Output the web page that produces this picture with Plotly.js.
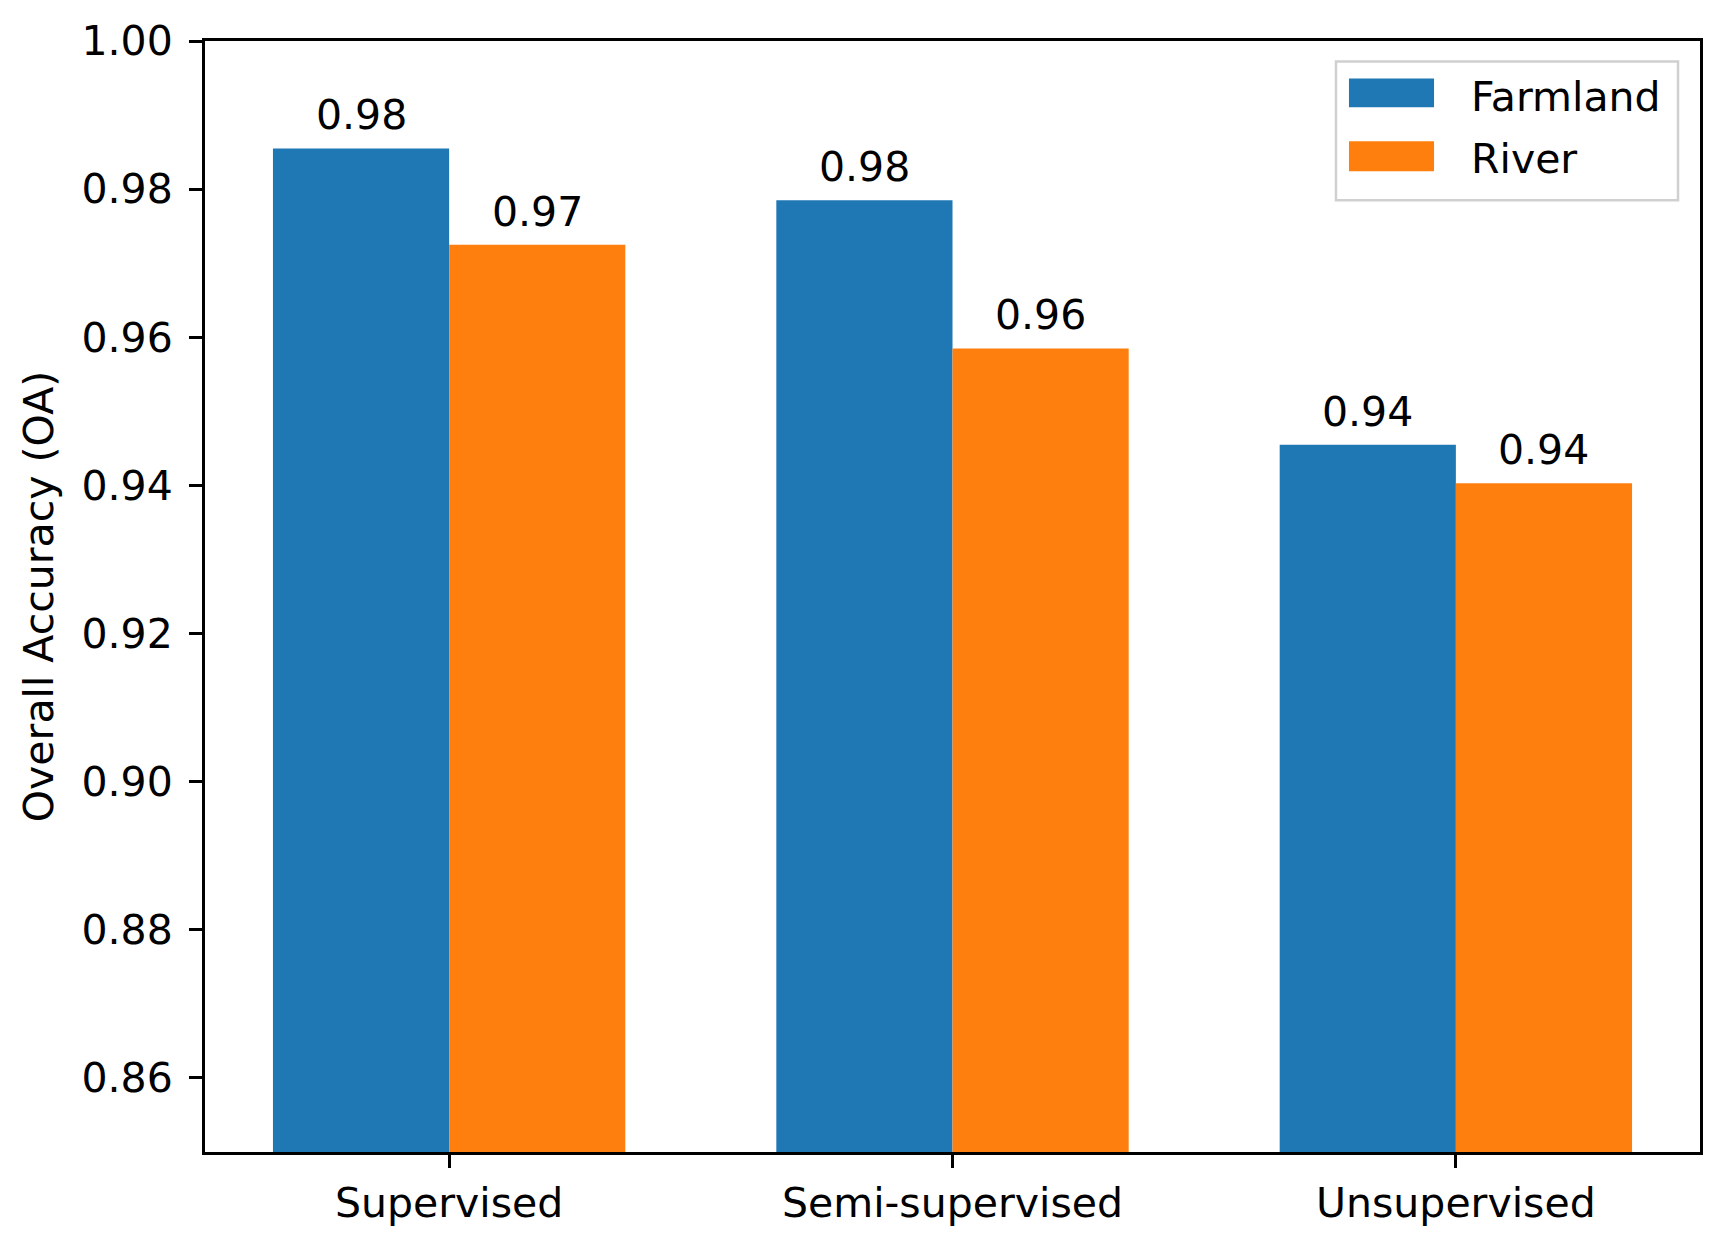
<!DOCTYPE html>
<html>
<head>
<meta charset="utf-8">
<script src="https://cdn.plot.ly/plotly-3.0.1.min.js"></script>
<style>
  html, body { margin: 0; padding: 0; background: #fff; }
  #chart { width: 1720px; height: 1247px; }
</style>
</head>
<body>
<div id="chart"></div>
<script>
var CHART = document.getElementById("chart");

// categories and values
var methods = ["Supervised", "Semi-supervised", "Unsupervised"];
var farmland = [0.9855, 0.9785, 0.9455];
var river = [0.9725, 0.9585, 0.9403];
var farmlandLabels = ["0.98", "0.98", "0.94"];
var riverLabels = ["0.97", "0.96", "0.94"];
var yTicks = [0.86, 0.88, 0.90, 0.92, 0.94, 0.96, 0.98, 1.00];

var blue = "#1f77b4";
var orange = "#ff7f0e";
var fontFam = "DejaVu Sans, sans-serif";
var fs = 41;

var data = [
    {
        x: methods,
        y: farmland,
        name: "Farmland",
        type: "bar",
        marker: { color: blue },
    },
    {
        x: methods,
        y: river,
        name: "River",
        type: "bar",
        marker: { color: orange },
    },
];

// value labels above each bar
var half = 0.175;
var annotations = [];
methods.forEach(function (m, i) {
    annotations.push({
        x: i - half, y: farmland[i], text: farmlandLabels[i],
        xref: "x", yref: "y", showarrow: false,
        yanchor: "bottom", yshift: 7,
        font: { size: fs, color: "black", family: fontFam },
    });
    annotations.push({
        x: i + half, y: river[i], text: riverLabels[i],
        xref: "x", yref: "y", showarrow: false,
        yanchor: "bottom", yshift: 7,
        font: { size: fs, color: "black", family: fontFam },
    });
});

// legend drawn by hand so the patches have matplotlib proportions
var shapes = [
    { type: "rect", xref: "paper", yref: "paper",
      x0: 0.7565, x1: 0.9853, y0: 0.8566, y1: 0.9816,
      line: { color: "#d0d0d0", width: 2.5 }, fillcolor: "rgba(255,255,255,0.8)" },
    { type: "rect", xref: "paper", yref: "paper",
      x0: 0.7652, x1: 0.8221, y0: 0.9403, y1: 0.9663,
      line: { width: 0 }, fillcolor: blue },
    { type: "rect", xref: "paper", yref: "paper",
      x0: 0.7652, x1: 0.8221, y0: 0.8827, y1: 0.9097,
      line: { width: 0 }, fillcolor: orange },
];
annotations.push({
    x: 0.8452, y: 0.9497, xref: "paper", yref: "paper", text: "Farmland",
    showarrow: false, xanchor: "left", yanchor: "middle",
    font: { size: fs, color: "black", family: fontFam },
});
annotations.push({
    x: 0.8452, y: 0.8935, xref: "paper", yref: "paper", text: "River",
    showarrow: false, xanchor: "left", yanchor: "middle",
    font: { size: fs, color: "black", family: fontFam },
});

var layout = {
    width: 1720,
    height: 1247,
    margin: { l: 205, r: 20, t: 41, b: 95 },
    paper_bgcolor: "white",
    plot_bgcolor: "white",
    font: { family: fontFam, size: fs, color: "black" },
    barmode: "group",
    bargap: 0.3,
    bargroupgap: 0,
    showlegend: false,
    xaxis: {
        type: "category",
        range: [-0.485, 2.485],
        showline: true, mirror: true, linecolor: "black", linewidth: 3,
        ticks: "outside", ticklen: 13, tickwidth: 3, tickcolor: "black",
        showgrid: false, zeroline: false,
        tickfont: { size: fs },
    },
    yaxis: {
        range: [0.85, 1.0],
        tickvals: yTicks,
        tickformat: ".2f",
        showline: true, mirror: true, linecolor: "black", linewidth: 3,
        ticks: "outside", ticklen: 13, tickwidth: 3, tickcolor: "black",
        ticklabelstandoff: 8,
        showgrid: false, zeroline: false,
        tickfont: { size: fs },
        title: { text: "Overall Accuracy (OA)", font: { size: fs }, standoff: 16 },
    },
    shapes: shapes,
    annotations: annotations,
};

var config = { responsive: false, displayModeBar: false, staticPlot: true };
Plotly.newPlot(CHART, data, layout, config);
</script>
</body>
</html>
